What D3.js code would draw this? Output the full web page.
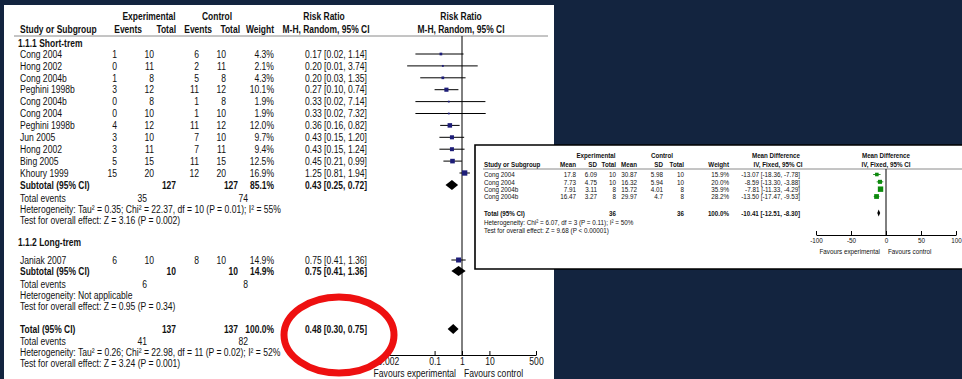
<!DOCTYPE html>
<html>
<head>
<meta charset="utf-8">
<script src="https://cdn.jsdelivr.net/npm/d3@7"></script>
<style>
  html, body { margin: 0; padding: 0; background: #13243f; }
  svg { display: block; }
  text { font-family: "Liberation Sans", Arial, sans-serif; }
</style>
</head>
<body>
<svg id="chart" width="962" height="379"></svg>
<script>
// ---------- Risk ratio forest plot (dichotomous outcome) ----------
const rrStudies    = ["Cong 2004", "Hong 2002", "Cong 2004b", "Peghini 1998b", "Cong 2004b", "Cong 2004",
                      "Peghini 1998b", "Jun 2005", "Hong 2002", "Bing 2005", "Khoury 1999"];
const rrExpEvents  = [1, 0, 1, 3, 0, 0, 4, 3, 3, 5, 15];
const rrExpTotal   = [10, 11, 8, 12, 8, 10, 12, 10, 11, 15, 20];
const rrCtrlEvents = [6, 2, 5, 11, 1, 1, 11, 7, 7, 11, 12];
const rrCtrlTotal  = [10, 11, 8, 12, 8, 10, 12, 10, 11, 15, 20];
const rrWeight     = [4.3, 2.1, 4.3, 10.1, 1.9, 1.9, 12.0, 9.7, 9.4, 12.5, 16.9];
const rrEst        = [0.17, 0.20, 0.20, 0.27, 0.33, 0.33, 0.36, 0.43, 0.43, 0.45, 1.25];
const rrLow        = [0.02, 0.01, 0.03, 0.10, 0.02, 0.02, 0.16, 0.15, 0.15, 0.21, 0.81];
const rrHigh       = [1.14, 3.74, 1.35, 0.74, 7.14, 7.32, 0.82, 1.20, 1.24, 0.99, 1.94];

// long-term subgroup
const ltStudies    = ["Janiak 2007"];
const ltExpEvents  = [6];
const ltExpTotal   = [10];
const ltCtrlEvents = [8];
const ltCtrlTotal  = [10];
const ltWeight     = [14.9];
const ltEst        = [0.75];
const ltLow        = [0.41];
const ltHigh       = [1.36];

// pooled rows: short-term subtotal, long-term subtotal, overall total
const poolLabels    = ["Subtotal (95% CI)", "Subtotal (95% CI)", "Total (95% CI)"];
const poolExpTotal  = [127, 10, 137];
const poolCtrlTotal = [127, 10, 137];
const poolWeight    = [85.1, 14.9, 100.0];
const poolEst       = [0.43, 0.75, 0.48];
const poolLow       = [0.25, 0.41, 0.30];
const poolHigh      = [0.72, 1.36, 0.75];
const poolEvExp     = [35, 6, 41];
const poolEvCtrl    = [74, 8, 82];
const poolHetero    = ["Heterogeneity: Tau\u00B2 = 0.35; Chi\u00B2 = 22.37, df = 10 (P = 0.01); I\u00B2 = 55%",
                       "Heterogeneity: Not applicable",
                       "Heterogeneity: Tau\u00B2 = 0.26; Chi\u00B2 = 22.98, df = 11 (P = 0.02); I\u00B2 = 52%"];
const poolTest      = ["Test for overall effect: Z = 3.16 (P = 0.002)",
                       "Test for overall effect: Z = 0.95 (P = 0.34)",
                       "Test for overall effect: Z = 3.24 (P = 0.001)"];
const rrTicks       = [0.002, 0.1, 1, 10, 500];

// ---------- Mean difference forest plot (continuous outcome) ----------
const mdStudies  = ["Cong 2004", "Cong 2004", "Cong 2004b", "Cong 2004b"];
const mdExpMean  = ["17.8", "7.73", "7.91", "16.47"];
const mdExpSD    = ["6.09", "4.75", "3.11", "3.27"];
const mdExpN     = [10, 10, 8, 8];
const mdCtrlMean = ["30.87", "16.32", "15.72", "29.97"];
const mdCtrlSD   = ["5.98", "5.94", "4.01", "4.7"];
const mdCtrlN    = [10, 10, 8, 8];
const mdWeight   = [15.9, 20.0, 35.9, 28.2];
const mdEst      = [-13.07, -8.59, -7.81, -13.50];
const mdLow      = [-18.36, -13.30, -11.33, -17.47];
const mdHigh     = [-7.78, -3.88, -4.29, -9.53];
const mdTotalN   = [36, 36];
const mdTotalEst = [-10.41, -12.51, -8.30]; // estimate, lower, upper
const mdHetero   = "Heterogeneity: Chi\u00B2 = 6.07, df = 3 (P = 0.11); I\u00B2 = 50%";
const mdTest     = "Test for overall effect: Z = 9.68 (P < 0.00001)";
const mdTicks    = [-100, -50, 0, 50, 100];

// ---------- helpers ----------
const svg = d3.select("#chart");
const INK = "#111";
const f2 = v => v.toFixed(2);
const pct = v => v.toFixed(1) + "%";
const ciText = (e, l, h) => `${f2(e)} [${f2(l)}, ${f2(h)}]`;

function txt(g, x, y, s, o = {}) {
  const sx = o.sx || (o.bold ? 0.8 : 0.81);
  return g.append("text")
    .attr("transform", `translate(${x},${y}) scale(${sx},1)`)
    .attr("text-anchor", o.anchor || "start")
    .attr("dy", "0.35em")
    .attr("font-size", o.size || 10.6)
    .attr("font-weight", o.bold ? "bold" : null)
    .attr("fill", INK)
    .text(s);
}
function diamond(g, sx, y, est, lo, hi, h) {
  g.append("path")
    .attr("d", `M${sx(lo)},${y}L${sx(est)},${y - h}L${sx(hi)},${y}L${sx(est)},${y + h}Z`)
    .attr("fill", "#000");
}

// ================= main panel =================
const main = svg.append("g");
main.append("rect").attr("x", 4).attr("y", 5).attr("width", 550).attr("height", 374).attr("fill", "#fff");

const xRR = d3.scaleLog().domain([0.002, 500]).range([388, 536]);
const yRow = d3.scaleLinear().domain([0, 10]).range([54, 173]);

const C = { name: 20, expEv: 117, expN: 154, ctlEv: 199, ctlN: 226, wt: 274, ci: 367,
            subExpN: 176, subCtlN: 238, evExp: 147, evCtl: 248, plot: 461 };

// column headers
txt(main, 149, 16, "Experimental", { anchor: "middle", bold: true });
txt(main, 217, 16, "Control", { anchor: "middle", bold: true });
txt(main, 324, 16, "Risk Ratio", { anchor: "middle", bold: true });
txt(main, C.plot, 16, "Risk Ratio", { anchor: "middle", bold: true });
txt(main, C.name, 29, "Study or Subgroup", { bold: true });
txt(main, 142, 29, "Events", { anchor: "end", bold: true });
txt(main, 176, 29, "Total", { anchor: "end", bold: true });
txt(main, 212, 29, "Events", { anchor: "end", bold: true });
txt(main, 240, 29, "Total", { anchor: "end", bold: true });
txt(main, C.wt, 29, "Weight", { anchor: "end", bold: true });
txt(main, 326, 29, "M-H, Random, 95% CI", { anchor: "middle", bold: true });
txt(main, C.plot, 29, "M-H, Random, 95% CI", { anchor: "middle", bold: true });
main.append("line").attr("x1", 14).attr("x2", 548).attr("y1", 36).attr("y2", 36)
  .attr("stroke", "#8a8a8a").attr("stroke-width", 1);

// line of no effect
const axisY = 355;
main.append("line").attr("x1", xRR(1)).attr("x2", xRR(1)).attr("y1", 36).attr("y2", axisY)
  .attr("stroke", "#000").attr("stroke-width", 1);

function studyRow(name, ee, et, ce, ct, w, est, lo, hi, y) {
  txt(main, C.name, y, name);
  txt(main, C.expEv, y, ee, { anchor: "end" });
  txt(main, C.expN, y, et, { anchor: "end" });
  txt(main, C.ctlEv, y, ce, { anchor: "end" });
  txt(main, C.ctlN, y, ct, { anchor: "end" });
  txt(main, C.wt, y, pct(w), { anchor: "end" });
  txt(main, C.ci, y, ciText(est, lo, hi), { anchor: "end" });
  main.append("line").attr("x1", xRR(lo)).attr("x2", xRR(hi)).attr("y1", y).attr("y2", y)
    .attr("stroke", "#000").attr("stroke-width", 1);
  const s = 1.3 * Math.sqrt(w);
  main.append("rect").attr("x", xRR(est) - s / 2).attr("y", y - s / 2)
    .attr("width", s).attr("height", s).attr("fill", "#1d1d78");
}
function pooledBlock(i, y) {
  txt(main, C.name, y, poolLabels[i], { bold: true });
  txt(main, C.subExpN, y, poolExpTotal[i], { anchor: "end", bold: true });
  txt(main, C.subCtlN, y, poolCtrlTotal[i], { anchor: "end", bold: true });
  txt(main, C.wt, y, pct(poolWeight[i]), { anchor: "end", bold: true });
  txt(main, C.ci, y, ciText(poolEst[i], poolLow[i], poolHigh[i]), { anchor: "end", bold: true });
  diamond(main, xRR, y, poolEst[i], poolLow[i], poolHigh[i], 5);
}
function footer(i, y0) {
  txt(main, C.name, y0, "Total events");
  txt(main, C.evExp, y0, poolEvExp[i], { anchor: "end" });
  txt(main, C.evCtl, y0, poolEvCtrl[i], { anchor: "end" });
  txt(main, C.name, y0 + 11, poolHetero[i]);
  txt(main, C.name, y0 + 22, poolTest[i]);
}

// 1.1.1 short-term
txt(main, C.name - 2, 43, "1.1.1 Short-trem", { bold: true });
rrStudies.forEach((n, i) => studyRow(n, rrExpEvents[i], rrExpTotal[i], rrCtrlEvents[i], rrCtrlTotal[i],
  rrWeight[i], rrEst[i], rrLow[i], rrHigh[i], yRow(i)));
pooledBlock(0, 185);
footer(0, 198);

// 1.1.2 long-term
txt(main, C.name - 2, 242, "1.1.2 Long-trem", { bold: true });
ltStudies.forEach((n, i) => studyRow(n, ltExpEvents[i], ltExpTotal[i], ltCtrlEvents[i], ltCtrlTotal[i],
  ltWeight[i], ltEst[i], ltLow[i], ltHigh[i], 260));
pooledBlock(1, 271);
footer(1, 284);

// overall
pooledBlock(2, 329);
footer(2, 341);

// axis
const ax = main.append("g").attr("transform", `translate(0,${axisY})`)
  .call(d3.axisBottom(xRR).tickValues(rrTicks).tickFormat(d => String(d))
    .tickSizeInner(-4).tickSizeOuter(0).tickPadding(2));
ax.selectAll("path,line").attr("stroke", "#000");
ax.selectAll("text").attr("font-size", 10.6).attr("fill", INK)
  .attr("font-family", "'Liberation Sans', Arial, sans-serif")
  .attr("transform", "scale(0.81,1)");
txt(main, xRR(1) - 6, 373, "Favours experimental", { anchor: "end" });
txt(main, xRR(1) + 2, 373, "Favours control");

// highlight around the overall estimate
main.append("ellipse").attr("cx", 339).attr("cy", 335).attr("rx", 55).attr("ry", 38)
  .attr("fill", "none").attr("stroke", "#ee1010").attr("stroke-width", 7);

// ================= inset panel =================
const inset = svg.append("g");
inset.append("rect").attr("x", 475).attr("y", 145).attr("width", 487).attr("height", 124).attr("fill", "#fff");
inset.append("path").attr("d", "M962,145H475V269H962")
  .attr("fill", "none").attr("stroke", "#000").attr("stroke-width", 1.6);

const IS = 7.8;
const xMD = d3.scaleLinear().domain([-100, 100]).range([816, 956]);
const yMD = d3.scaleLinear().domain([0, 3]).range([174.5, 196.5]);
const M = { name: 484, eMean: 576, eSD: 597, eN: 616, cMean: 637, cSD: 663, cN: 684, wt: 729, ci: 800, plot: xMD(0) };
const it = (x, y, s, o = {}) => txt(inset, x, y, s, Object.assign({ size: IS }, o));

it(596, 155.5, "Experimental", { anchor: "middle", bold: true });
it(662, 155.5, "Control", { anchor: "middle", bold: true });
it(776, 155.5, "Mean Difference", { anchor: "middle", bold: true });
it(M.plot, 155.5, "Mean Difference", { anchor: "middle", bold: true });
it(M.name, 164.5, "Study or Subgroup", { bold: true });
it(M.eMean, 164.5, "Mean", { anchor: "end", bold: true });
it(M.eSD, 164.5, "SD", { anchor: "end", bold: true });
it(M.eN, 164.5, "Total", { anchor: "end", bold: true });
it(M.cMean, 164.5, "Mean", { anchor: "end", bold: true });
it(M.cSD, 164.5, "SD", { anchor: "end", bold: true });
it(M.cN, 164.5, "Total", { anchor: "end", bold: true });
it(M.wt, 164.5, "Weight", { anchor: "end", bold: true });
it(778, 164.5, "IV, Fixed, 95% CI", { anchor: "middle", bold: true });
it(M.plot, 164.5, "IV, Fixed, 95% CI", { anchor: "middle", bold: true });
inset.append("line").attr("x1", 483).attr("x2", 962).attr("y1", 169).attr("y2", 169)
  .attr("stroke", "#8a8a8a").attr("stroke-width", 1);

const mdAxisY = 235;
inset.append("line").attr("x1", M.plot).attr("x2", M.plot).attr("y1", 169).attr("y2", mdAxisY)
  .attr("stroke", "#000").attr("stroke-width", 1);

mdStudies.forEach((n, i) => {
  const y = yMD(i);
  it(M.name, y, n);
  it(M.eMean, y, mdExpMean[i], { anchor: "end" });
  it(M.eSD, y, mdExpSD[i], { anchor: "end" });
  it(M.eN, y, mdExpN[i], { anchor: "end" });
  it(M.cMean, y, mdCtrlMean[i], { anchor: "end" });
  it(M.cSD, y, mdCtrlSD[i], { anchor: "end" });
  it(M.cN, y, mdCtrlN[i], { anchor: "end" });
  it(M.wt, y, pct(mdWeight[i]), { anchor: "end" });
  it(M.ci, y, ciText(mdEst[i], mdLow[i], mdHigh[i]), { anchor: "end" });
  inset.append("line").attr("x1", xMD(mdLow[i])).attr("x2", xMD(mdHigh[i])).attr("y1", y).attr("y2", y)
    .attr("stroke", "#2f8f2f").attr("stroke-width", 1);
  const s = 0.9 * Math.sqrt(mdWeight[i]);
  inset.append("rect").attr("x", xMD(mdEst[i]) - s / 2).attr("y", y - s / 2)
    .attr("width", s).attr("height", s).attr("fill", "#0c8a0c");
});

const yTot = 213;
it(M.name, yTot, "Total (95% CI)", { bold: true });
it(M.eN, yTot, mdTotalN[0], { anchor: "end", bold: true });
it(M.cN, yTot, mdTotalN[1], { anchor: "end", bold: true });
it(M.wt, yTot, pct(100), { anchor: "end", bold: true });
it(M.ci, yTot, ciText(mdTotalEst[0], mdTotalEst[1], mdTotalEst[2]), { anchor: "end", bold: true });
diamond(inset, xMD, yTot, mdTotalEst[0], mdTotalEst[1], mdTotalEst[2], 3.5);
it(M.name, 222, mdHetero);
it(M.name, 230.5, mdTest);

const ax2 = inset.append("g").attr("transform", `translate(0,${mdAxisY})`)
  .call(d3.axisBottom(xMD).tickValues(mdTicks).tickFormat(d => String(d))
    .tickSizeInner(-4).tickSizeOuter(0).tickPadding(2));
ax2.selectAll("path,line").attr("stroke", "#000");
ax2.selectAll("text").attr("font-size", IS).attr("fill", INK)
  .attr("font-family", "'Liberation Sans', Arial, sans-serif")
  .attr("transform", "scale(0.81,1)");
it(M.plot - 6, 251, "Favours experimental", { anchor: "end" });
it(M.plot + 2, 251, "Favours control");
</script>
</body>
</html>
